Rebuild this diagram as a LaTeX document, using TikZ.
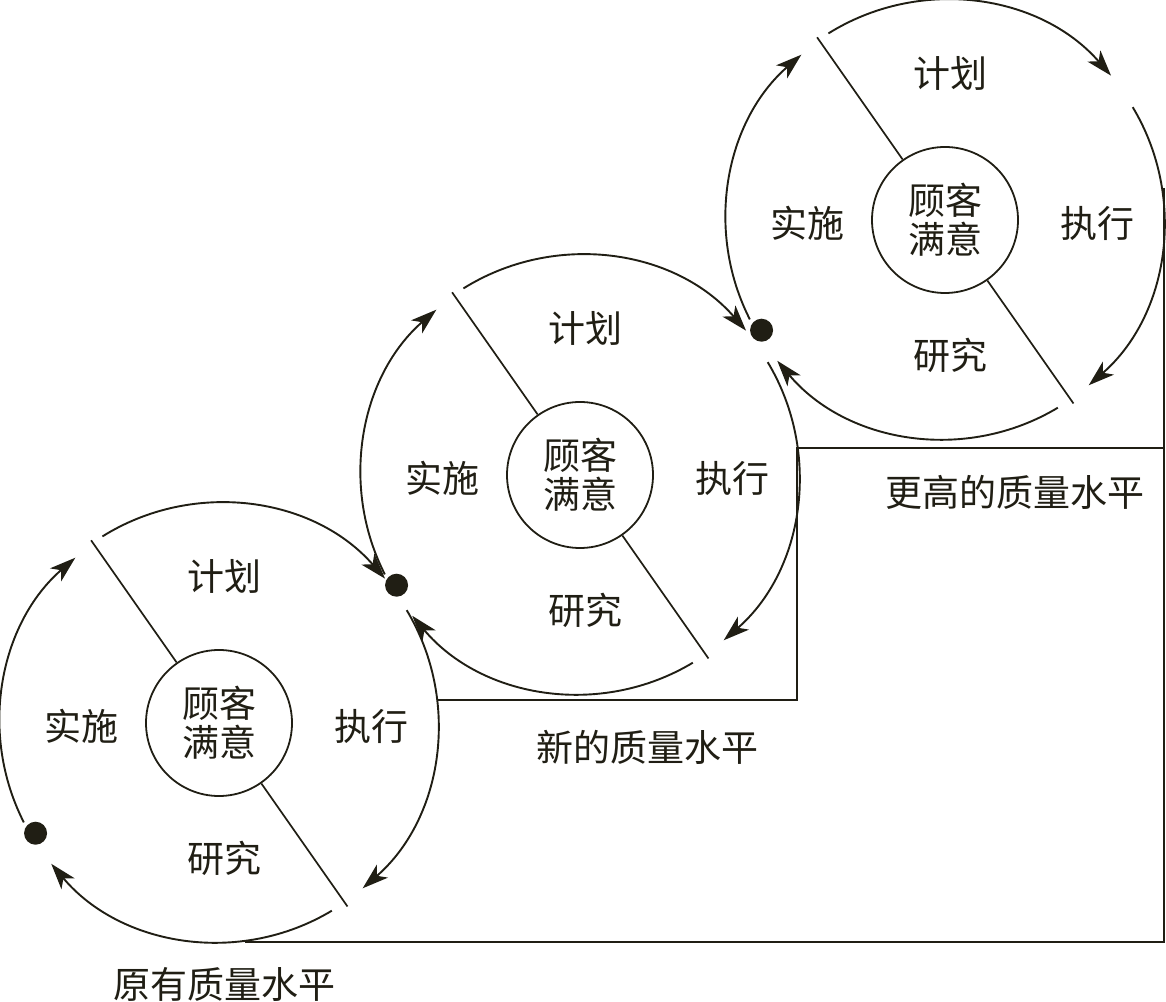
\documentclass[tikz,border=0pt]{standalone}
\usepackage{fontspec}
\setmainfont{Noto Sans CJK SC}
\usetikzlibrary{arrows.meta}
\definecolor{ink}{RGB}{32,30,20}
\begin{document}
\begin{tikzpicture}[x=1pt,y=1pt,line width=2pt,draw=ink,
  cyc/.style={line width=1.9pt,-{Stealth[length=26pt,width=17pt,inset=7pt]}},
  lab/.style={font=\fontsize{37}{39}\selectfont,text=ink,inner sep=0pt},
  inner/.style={draw=ink,line width=1.8pt,circle,minimum size=146pt,inner sep=0pt,align=center,
    font=\fontsize{37}{39}\selectfont,text=ink},
  dotnode/.style={circle,fill=ink,draw=none,minimum size=23pt,inner sep=0pt}]
\useasboundingbox (0,0) rectangle (1166,1001);
\coordinate (C1) at (219,278);
\coordinate (C2) at (580,526);
\coordinate (C3) at (945,781);
\foreach \i in {1,2,3} {
  \node[inner] (in\i) at (C\i) {顾客\\满意};
  \node[lab] (plan\i) at ([shift={(5,147)}]C\i) {计划};
  \node[lab] (exec\i) at ([shift={(152,-3)}]C\i) {执行};
  \node[lab] (study\i) at ([shift={(5,-135)}]C\i) {研究};
  \node[lab] (act\i) at ([shift={(-138,-3)}]C\i) {实施};
  \node[dotnode] (dot\i) at ([shift={(211:214)}]C\i) {};
  \draw[cyc] ([shift={(207:219)}]C\i) arc[start angle=207,end angle=131,radius=219];
  \draw[cyc] ([shift={(122:220)}]C\i) arc[start angle=122,end angle=41,radius=220];
  \draw[cyc] ([shift={(31:219)}]C\i) arc[start angle=31,end angle=-49,radius=219];
  \draw[cyc] ([shift={(-59:219)}]C\i) arc[start angle=-59,end angle=-140,radius=219];
  \coordinate (d\i a) at ([shift={(125:223)}]C\i);
  \coordinate (d\i b) at ([shift={(-55:224)}]C\i);
  \draw[line width=1.7pt] (in\i.125) -- (d\i a);
  \draw[line width=1.7pt] (in\i.-55) -- (d\i b);
}
\coordinate (b1s) at (245,59);
\coordinate (b1e) at (1164,59);
\coordinate (b1t) at (1164,813);
\draw (b1s) -- (b1e) -- (b1t);
\coordinate (b2s) at (437,301);
\coordinate (b2c) at (797,301);
\coordinate (b2t) at (797,553);
\coordinate (b3e) at (1164,553);
\draw (b2s) -- (b2c) -- (b2t) -- (b3e);
\node[lab] (q1) at (224,17) {原有质量水平};
\node[lab] (q2) at (647,254) {新的质量水平};
\node[lab] (q3) at (1015,509) {更高的质量水平};
\end{tikzpicture}
\end{document}
